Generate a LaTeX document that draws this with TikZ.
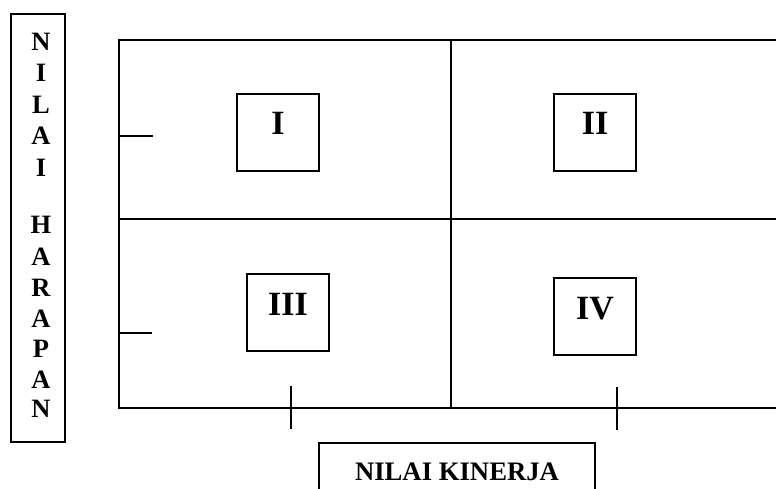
\documentclass[tikz,border=0pt]{standalone}
\usepackage{fontspec}
\setmainfont{Liberation Serif}
\begin{document}
\begin{tikzpicture}[x=1pt,y=-1pt,
  line/.style={line width=1.7pt, black},
  quad/.style={draw, line width=1.6pt, inner sep=0pt, minimum width=82pt, minimum height=77pt,
    text height=40.5pt, text depth=36.5pt, font=\fontsize{34}{38}\selectfont\bfseries},
  letter/.style={anchor=base, inner sep=0pt, font=\fontsize{26.5}{30}\selectfont\bfseries},
  axislabel/.style={anchor=base, inner sep=0pt, font=\fontsize{26.7}{30}\selectfont\bfseries}]
\useasboundingbox (0,0) rectangle (776,489);
% left label box
\node[draw, line width=1.7pt, minimum width=54pt, minimum height=428pt, inner sep=0pt] (ybox) at (38,228) {};
\foreach \ch/\yy [count=\i] in {N/41.5, I/73, L/105, A/136, I/168, H/225, A/257, R/288, A/319, P/349, A/380, N/409}
  \node[letter] (yl\i) at (41,\yy+8.7) {\ch};
% grid
\coordinate (tl) at (119,40);
\coordinate (tr) at (776,40);
\coordinate (ml) at (119,219);
\coordinate (mr) at (776,219);
\coordinate (bl) at (119,408);
\coordinate (br) at (776,408);
\coordinate (vt) at (451,40);
\coordinate (vb) at (451,408);
\draw[line] (tr) -- (tl) -- (bl) -- (br);
\draw[line] (ml) -- (mr);
\draw[line] (vt) -- (vb);
% ticks
\coordinate (ta1) at (119,136); \coordinate (tb1) at (153,136);
\coordinate (ta2) at (119,333); \coordinate (tb2) at (152,333);
\coordinate (tc1) at (291,386); \coordinate (td1) at (291,429);
\coordinate (tc2) at (617,387); \coordinate (td2) at (617,430);
\draw[line] (ta1) -- (tb1);
\draw[line] (ta2) -- (tb2);
\draw[line] (tc1) -- (td1);
\draw[line] (tc2) -- (td2);
% quadrant boxes
\node[quad] (q1) at (278,132.5) {I};
\node[quad] (q2) at (595,132.5) {II};
\node[quad, text height=41.5pt, text depth=35.5pt] (q3) at (288,312.5) {III};
\node[quad, text height=41.5pt, text depth=35.5pt] (q4) at (595,316.5) {IV};
% x label
\coordinate (xa) at (319,489);
\coordinate (xb) at (319,443);
\coordinate (xc) at (595,443);
\coordinate (xd) at (595,489);
\draw[line] (xa) -- (xb) -- (xc) -- (xd);
\node[axislabel] (xl) at (457,480) {NILAI KINERJA};
\end{tikzpicture}
\end{document}
